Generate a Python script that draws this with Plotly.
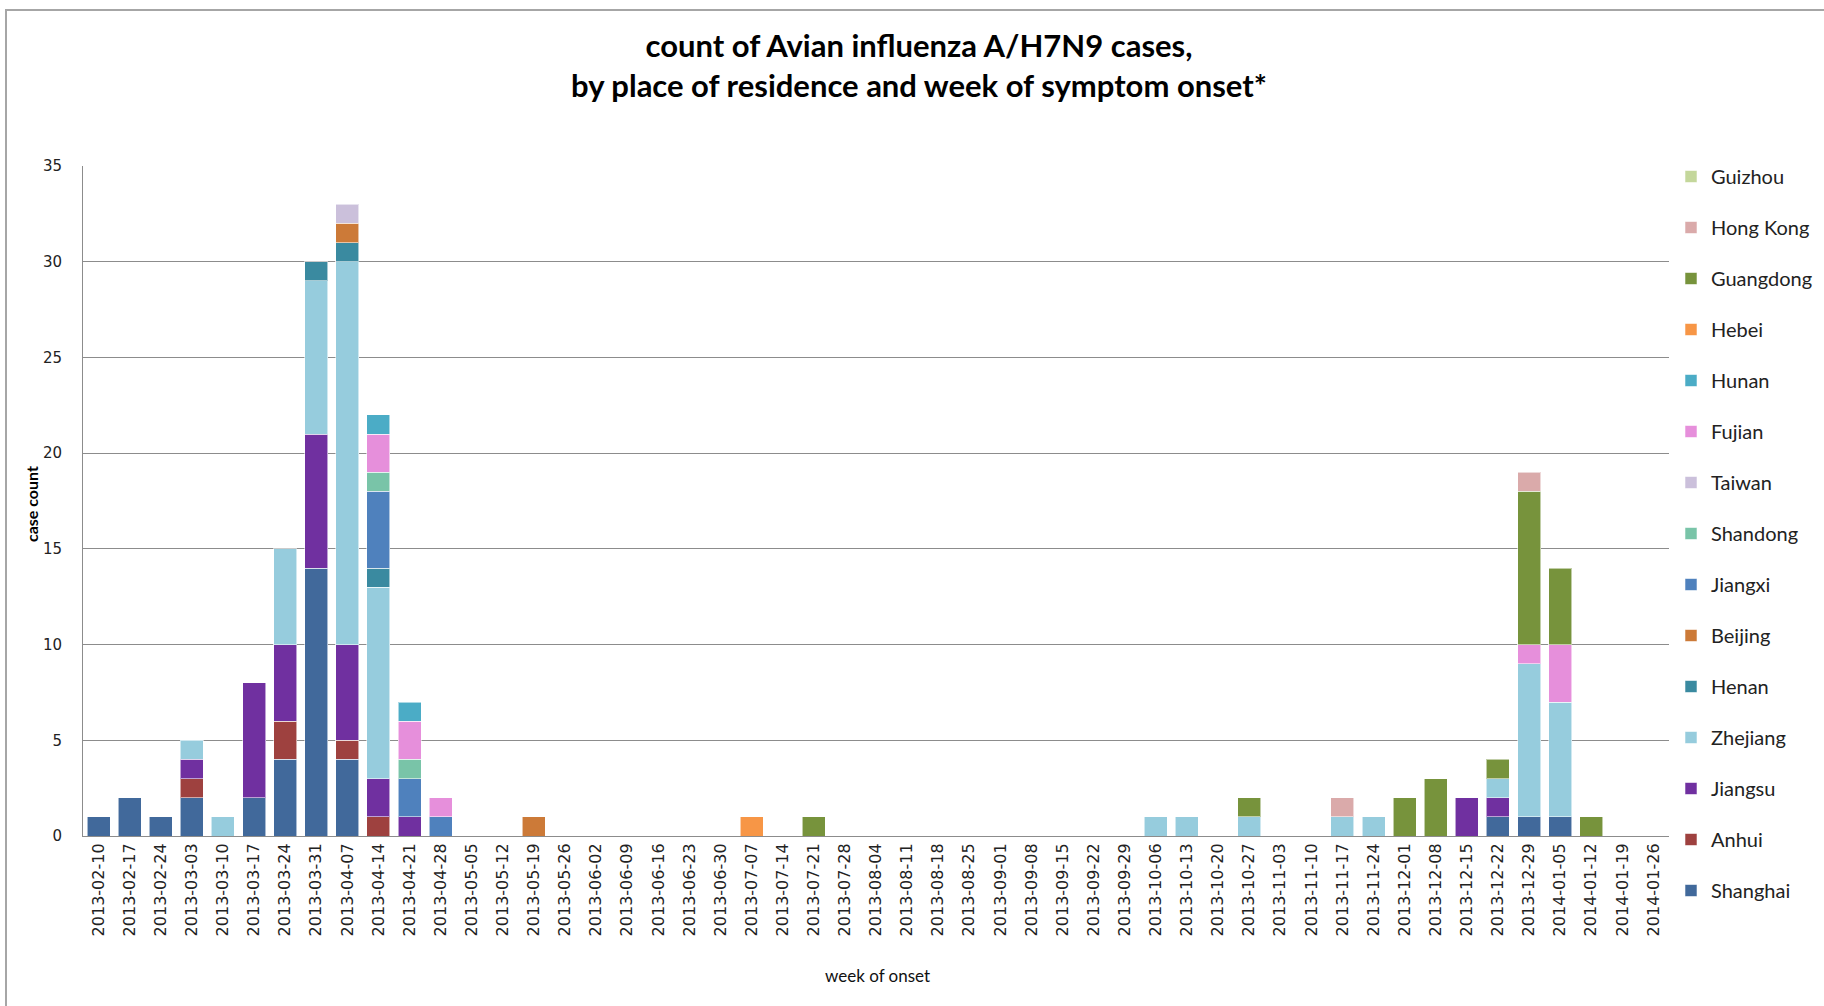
import plotly.graph_objects as go

weeks = ["2013-02-10", "2013-02-17", "2013-02-24", "2013-03-03", "2013-03-10", "2013-03-17",
         "2013-03-24", "2013-03-31", "2013-04-07", "2013-04-14", "2013-04-21", "2013-04-28",
         "2013-05-05", "2013-05-12", "2013-05-19", "2013-05-26", "2013-06-02", "2013-06-09",
         "2013-06-16", "2013-06-23", "2013-06-30", "2013-07-07", "2013-07-14", "2013-07-21",
         "2013-07-28", "2013-08-04", "2013-08-11", "2013-08-18", "2013-08-25", "2013-09-01",
         "2013-09-08", "2013-09-15", "2013-09-22", "2013-09-29", "2013-10-06", "2013-10-13",
         "2013-10-20", "2013-10-27", "2013-11-03", "2013-11-10", "2013-11-17", "2013-11-24",
         "2013-12-01", "2013-12-08", "2013-12-15", "2013-12-22", "2013-12-29", "2014-01-05",
         "2014-01-12", "2014-01-19", "2014-01-26"]

# counts per province, keyed by week of onset (weeks not listed = 0)
shanghai = {"2013-02-10": 1, "2013-02-17": 2, "2013-02-24": 1, "2013-03-03": 2, "2013-03-17": 2,
            "2013-03-24": 4, "2013-03-31": 14, "2013-04-07": 4, "2013-12-22": 1, "2013-12-29": 1,
            "2014-01-05": 1}
anhui = {"2013-03-03": 1, "2013-03-24": 2, "2013-04-07": 1, "2013-04-14": 1}
jiangsu = {"2013-03-03": 1, "2013-03-17": 6, "2013-03-24": 4, "2013-03-31": 7, "2013-04-07": 5,
           "2013-04-14": 2, "2013-04-21": 1, "2013-12-15": 2, "2013-12-22": 1}
zhejiang = {"2013-03-03": 1, "2013-03-10": 1, "2013-03-24": 5, "2013-03-31": 8, "2013-04-07": 20,
            "2013-04-14": 10, "2013-10-06": 1, "2013-10-13": 1, "2013-10-27": 1, "2013-11-17": 1,
            "2013-11-24": 1, "2013-12-22": 1, "2013-12-29": 8, "2014-01-05": 6}
henan = {"2013-03-31": 1, "2013-04-07": 1, "2013-04-14": 1}
beijing = {"2013-04-07": 1, "2013-05-19": 1}
jiangxi = {"2013-04-14": 4, "2013-04-21": 2, "2013-04-28": 1}
shandong = {"2013-04-14": 1, "2013-04-21": 1}
taiwan = {"2013-04-07": 1}
fujian = {"2013-04-14": 2, "2013-04-21": 2, "2013-04-28": 1, "2013-12-29": 1, "2014-01-05": 3}
hunan = {"2013-04-14": 1, "2013-04-21": 1}
hebei = {"2013-07-07": 1}
guangdong = {"2013-07-21": 1, "2013-10-27": 1, "2013-12-01": 2, "2013-12-08": 3, "2013-12-22": 1,
             "2013-12-29": 8, "2014-01-05": 4, "2014-01-12": 1}
hong_kong = {"2013-11-17": 1, "2013-12-29": 1}
guizhou = {}

# stacking order bottom -> top
provinces = ["Shanghai", "Anhui", "Jiangsu", "Zhejiang", "Henan", "Beijing", "Jiangxi",
             "Shandong", "Taiwan", "Fujian", "Hunan", "Hebei", "Guangdong", "Hong Kong", "Guizhou"]
series = [shanghai, anhui, jiangsu, zhejiang, henan, beijing, jiangxi, shandong, taiwan,
          fujian, hunan, hebei, guangdong, hong_kong, guizhou]
colors = ["#41699B", "#9E413F", "#7030A0", "#96CCDD", "#3A8AA0", "#CC7A38", "#4F81BD",
          "#79C4A8", "#CBC0DB", "#E68FDB", "#4BACC6", "#F79646", "#77933C", "#DAAAAA", "#C4D79B"]

fig = go.Figure()
n = len(provinces)
for i, (name, data, col) in enumerate(zip(provinces, series, colors)):
    fig.add_trace(go.Bar(
        x=weeks,
        y=[data.get(w) for w in weeks],
        name=name,
        legendgroup=name,
        legendrank=100 + (n - i),
        marker=dict(color=col, line=dict(color="rgba(255,255,255,0.55)", width=1)),
    ))

W, H = 1824, 1006
L, R, T, B = 83, 155, 166, 170
pw, ph = W - L - R, H - T - B

fig.update_layout(
    width=W, height=H,
    margin=dict(l=L, r=R, t=T, b=B, autoexpand=False),
    barmode="stack",
    bargap=0.26,
    paper_bgcolor="white",
    plot_bgcolor="white",
    font=dict(family="DejaVu Sans", color="#222222"),
    title=dict(
        text="count of Avian influenza A/H7N9 cases,<br>by place of residence and week of symptom onset*",
        x=919 / W, xanchor="center",
        y=1 - 57 / H, yanchor="middle", yref="container",
        font=dict(family="Lato", size=31, color="#000000", weight="bold"),
    ),
    legend=dict(
        x=(1671 - L) / pw, xanchor="left",
        y=1 + 9 / ph, yanchor="top",
        traceorder="grouped",
        tracegroupgap=22,
        font=dict(family="Lato", size=20, color="#222222"),
        itemwidth=30,
        bgcolor="rgba(0,0,0,0)",
        maxheight=900,
    ),
    xaxis=dict(
        type="category",
        tickangle=-90,
        tickfont=dict(family="DejaVu Sans", size=16, color="#222222"),
        showline=True, linecolor="#8C8C8C", linewidth=1,
        showgrid=False,
        ticks="",
    ),
    yaxis=dict(
        range=[0, 35],
        dtick=5,
        tickfont=dict(family="DejaVu Sans", size=15, color="#222222"),
        showline=True, linecolor="#8C8C8C", linewidth=1,
        gridcolor="#8C8C8C", gridwidth=1,
        zeroline=False,
        ticks="",
        ticklabelstandoff=17,
    ),
    showlegend=True,
)

# axis titles
fig.add_annotation(text="<b>case count</b>", textangle=-90, showarrow=False,
                   xref="paper", yref="paper", x=(31 - L) / pw, y=(H - B - 504) / ph,
                   xanchor="center", yanchor="middle",
                   font=dict(family="Lato", size=16, color="#000000"))
fig.add_annotation(text="week of onset", showarrow=False,
                   xref="paper", yref="paper", x=(877 - L) / pw, y=(H - B - 975) / ph,
                   xanchor="center", yanchor="middle",
                   font=dict(family="Lato", size=17, color="#111111"))

# chart-area border (left and top edges visible)
fig.add_shape(type="rect", xref="paper", yref="paper",
              x0=(6 - L) / pw, x1=(W + 20 - L) / pw,
              y0=(H - B - (H + 20)) / ph, y1=(H - B - 10) / ph,
              line=dict(color="#A6A6A6", width=2), fillcolor="rgba(0,0,0,0)", layer="below")

fig.write_html("out.html")
